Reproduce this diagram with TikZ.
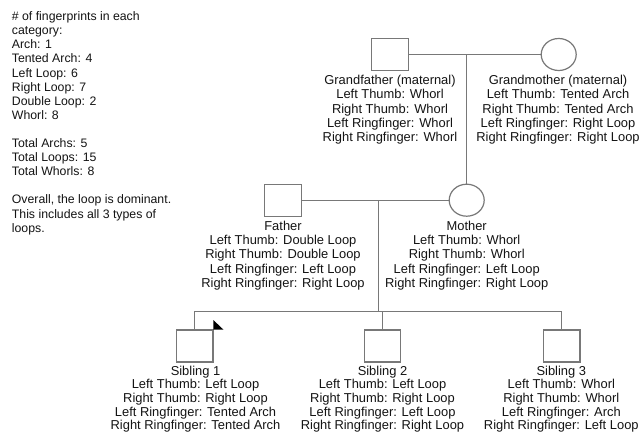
\documentclass[tikz,border=0pt]{standalone}
\usepackage{fontspec}
\setmainfont{Liberation Sans}
\usetikzlibrary{shapes.geometric}
\definecolor{linegray}{RGB}{120,120,120}
\definecolor{txt}{RGB}{20,20,20}
\begin{document}
\begin{tikzpicture}[x=1pt,y=-1pt,
  male/.style={draw=linegray, line width=1.2pt, minimum width=36.5pt, minimum height=32pt, inner sep=0},
  female/.style={draw=linegray, line width=1.2pt, ellipse, minimum width=35pt, minimum height=32pt, inner sep=0},
  link/.style={draw=linegray, line width=1.2pt},
  info/.style={anchor=north, align=center, inner sep=0, text=txt, font=\fontsize{12.9}{14.2}\selectfont},
  kidinfo/.style={info, font=\fontsize{12.9}{13.7}\selectfont},
  notes/.style={anchor=north west, align=left, inner sep=0, text=txt, font=\fontsize{12.3}{14.1}\selectfont}
]
\fill[white] (0,0) rectangle (640,433);
\useasboundingbox (0,0) rectangle (640,433);

% notes
\node[notes] (note) at (11.7,11.5) {\# of fingerprints in each\\category:\\Arch: 1\\Tented Arch: 4\\Left Loop: 6\\Right Loop: 7\\Double Loop: 2\\Whorl: 8\\[14.1pt]Total Archs: 5\\Total Loops: 15\\Total Whorls: 8\\[14.1pt]Overall, the loop is dominant.\\This includes all 3 types of\\loops.};

% symbols
\node[male] (gf) at (390,54.5) {};
\node[female] (gm) at (558.7,54.5) {};
\node[male] (fa) at (283,200.2) {};
\node[female] (mo) at (466.7,200.2) {};
\node[male] (s1) at (194.7,346) {};
\node[male] (s2) at (382.5,346) {};
\node[male] (s3) at (561.7,346) {};

% labels
\node[info] (gft) at (390,75.2) {Grandfather (maternal)\\Left Thumb: Whorl\\Right Thumb: Whorl\\Left Ringfinger: Whorl\\Right Ringfinger: Whorl};
\node[info] (gmt) at (558,75.2) {Grandmother (maternal)\\Left Thumb: Tented Arch\\Right Thumb: Tented Arch\\Left Ringfinger: Right Loop\\Right Ringfinger: Right Loop};
\node[info] (fat) at (283,221) {Father\\Left Thumb: Double Loop\\Right Thumb: Double Loop\\Left Ringfinger: Left Loop\\Right Ringfinger: Right Loop};
\node[info] (mot) at (466.7,221) {Mother\\Left Thumb: Whorl\\Right Thumb: Whorl\\Left Ringfinger: Left Loop\\Right Ringfinger: Right Loop};
\node[kidinfo] (s1t) at (195.5,365.5) {Sibling 1\\Left Thumb: Left Loop\\Right Thumb: Right Loop\\Left Ringfinger: Tented Arch\\Right Ringfinger: Tented Arch};
\node[kidinfo] (s2t) at (382.5,365.5) {Sibling 2\\Left Thumb: Left Loop\\Right Thumb: Right Loop\\Left Ringfinger: Left Loop\\Right Ringfinger: Right Loop};
\node[kidinfo] (s3t) at (561.3,365.5) {Sibling 3\\Left Thumb: Whorl\\Right Thumb: Whorl\\Left Ringfinger: Arch\\Right Ringfinger: Left Loop};

% connectors
\coordinate (gp) at (mo.north |- gf.east);
\coordinate (pp) at (378.5,200.2);
\coordinate (bus) at (378.5,311.7);
\draw[link] (gf.east) -- (gm.west);
\draw[link] (gp) -- (mo.north);
\draw[link] (fa.east) -- (mo.west);
\draw[link] (pp) -- (bus);
\draw[link] (s1.north) |- (bus) -| (s3.north);
\draw[link] (s2.north) -- (s2.north |- bus);

% pointer mark
\fill[black] (213.3,320) -- (213.3,329.5) -- (223.3,329.5) -- cycle;
\end{tikzpicture}
\end{document}
